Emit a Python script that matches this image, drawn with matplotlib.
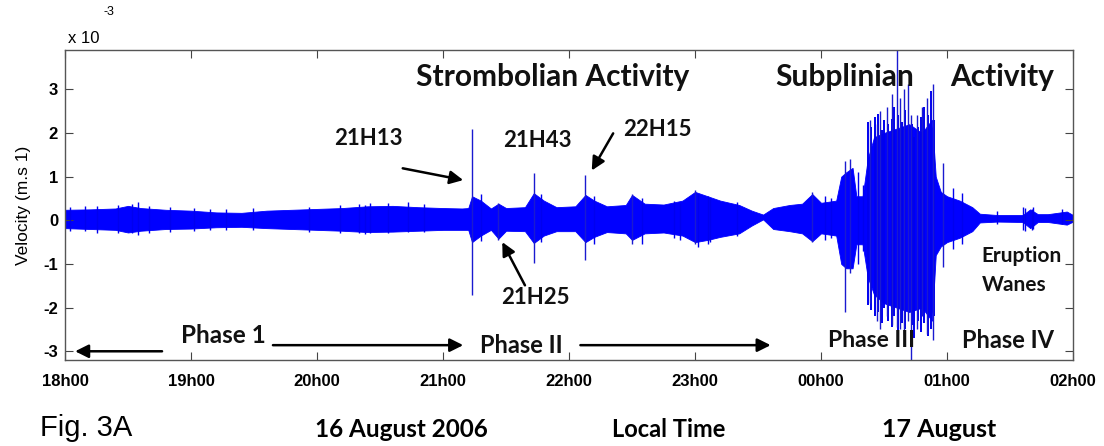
import matplotlib
matplotlib.use("Agg")
import matplotlib.pyplot as plt

# hours after 18h00 on 16 August; velocity in units of 1e-3 m/s
env_time = [0.0, 0.2, 0.4, 0.5, 0.6, 0.8, 1.0, 1.2, 1.4, 1.6, 1.8, 2.0, 2.2, 2.4,
            2.6, 2.8, 3.0, 3.15, 3.2, 3.23, 3.3, 3.38, 3.44, 3.5, 3.65, 3.72, 3.8,
            3.9, 4.05, 4.13, 4.2, 4.3, 4.45, 4.5, 4.6, 4.75, 4.9, 5.0, 5.1, 5.2,
            5.35, 5.45, 5.54, 5.62, 5.75, 5.85, 5.93, 6.0, 6.12, 6.16, 6.2, 6.25,
            6.28, 6.33, 6.37, 6.42, 6.5, 6.6, 6.7, 6.8, 6.88, 6.91, 6.95, 7.0,
            7.1, 7.2, 7.26, 7.4, 7.6, 7.66, 7.72, 7.8, 7.95, 8.0]
env_upper = [0.24, 0.25, 0.27, 0.33, 0.28, 0.24, 0.22, 0.18, 0.17, 0.22, 0.24, 0.26,
             0.28, 0.32, 0.33, 0.30, 0.28, 0.27, 0.28, 0.55, 0.45, 0.27, 0.38, 0.28,
             0.30, 0.62, 0.45, 0.30, 0.32, 0.58, 0.45, 0.32, 0.35, 0.58, 0.38, 0.36,
             0.45, 0.65, 0.55, 0.45, 0.35, 0.22, 0.13, 0.28, 0.35, 0.38, 0.60, 0.40,
             0.45, 1.00, 1.10, 1.20, 0.55, 0.55, 1.40, 1.90, 2.00, 2.10, 2.20, 2.00,
             2.30, 1.00, 0.65, 0.55, 0.45, 0.30, 0.15, 0.12, 0.12, 0.25, 0.14, 0.14,
             0.20, 0.12]
env_lower = [-0.18, -0.20, -0.22, -0.28, -0.24, -0.20, -0.19, -0.16, -0.15, -0.18,
             -0.20, -0.22, -0.24, -0.27, -0.26, -0.24, -0.22, -0.22, -0.22, -0.50,
             -0.35, -0.22, -0.42, -0.24, -0.25, -0.52, -0.35, -0.25, -0.25, -0.50,
             -0.38, -0.27, -0.30, -0.45, -0.30, -0.28, -0.35, -0.50, -0.45, -0.38,
             -0.30, -0.12, 0.02, -0.20, -0.25, -0.30, -0.48, -0.30, -0.35, -1.00,
             -1.10, -1.10, -0.55, -0.55, -1.30, -1.70, -1.90, -2.00, -2.10, -2.00,
             -2.30, -0.80, -0.60, -0.50, -0.40, -0.25, -0.05, -0.03, -0.04, -0.18,
             -0.04, -0.04, -0.10, -0.03]

# isolated spikes: time, top, bottom
spike_time = [3.23, 3.44, 3.72, 4.13, 4.50, 5.00, 5.93, 6.19, 6.23, 6.39, 6.44,
              6.47, 6.52, 6.56, 6.60, 6.63, 6.66, 6.69, 6.71, 6.76, 6.80, 6.84,
              6.89, 6.97]
spike_top = [2.10, 0.40, 1.08, 1.03, 0.60, 0.70, 0.65, 1.35, 1.40, 2.30, 2.20,
             2.50, 2.60, 2.90, 3.95, 2.80, 3.00, 3.13, 2.40, 2.40, 2.60, 2.80,
             3.13, 1.30]
spike_bottom = [-1.72, -0.45, -0.98, -0.92, -0.55, -0.55, -0.50, -2.10, -1.20,
                -1.90, -2.30, -2.50, -2.20, -2.40, -2.45, -2.50, -2.60, -2.30,
                -3.30, -2.50, -2.20, -2.60, -2.75, -1.07]

# short ragged hairs on the edge of the background band
hair_time = [0.04, 0.16, 0.25, 0.42, 0.53, 0.58, 0.67, 0.83, 1.02, 1.15, 1.28,
             1.49, 1.94, 2.18, 2.33, 2.38, 2.42, 2.56, 2.72, 2.85, 3.30, 3.78,
             4.20, 4.58, 4.83, 4.88, 5.02, 5.10, 5.12, 5.33, 6.03, 6.08, 6.29,
             6.33, 7.05, 7.12, 7.40, 7.60, 7.62, 7.67, 7.68, 7.91]
hair_top = [0.30, 0.32, 0.33, 0.36, 0.38, 0.42, 0.33, 0.30, 0.28, 0.25, 0.26,
            0.27, 0.30, 0.34, 0.38, 0.36, 0.39, 0.40, 0.41, 0.37, 0.60, 0.60,
            0.55, 0.50, 0.45, 0.40, 0.60, 0.55, 0.52, 0.42, 0.55, 0.50, 1.10,
            0.80, 0.75, 0.62, 0.22, 0.30, 0.28, 0.26, 0.30, 0.25]
hair_bottom = [-0.25, -0.24, -0.30, -0.30, -0.30, -0.34, -0.30, -0.26, -0.24,
               -0.22, -0.23, -0.22, -0.28, -0.30, -0.30, -0.32, -0.30, -0.30,
               -0.28, -0.28, -0.48, -0.50, -0.55, -0.55, -0.40, -0.45, -0.62,
               -0.55, -0.50, -0.35, -0.45, -0.40, -1.00, -0.70, -0.65, -0.55,
               -0.08, -0.22, -0.25, -0.22, -0.20, -0.08]

# dense lines inside the subplinian burst
burst_time = [6.375, 6.40, 6.43, 6.45, 6.48, 6.50, 6.53, 6.56, 6.58, 6.61, 6.64,
              6.67, 6.72, 6.74, 6.77, 6.79, 6.82, 6.85, 6.87, 6.90]
burst_top = [2.25, 2.14, 2.36, 2.44, 2.06, 2.29, 2.21, 2.33, 2.59, 2.40, 2.25,
             2.52, 2.21, 1.91, 2.14, 2.36, 2.59, 2.40, 2.97, 2.30]
burst_bottom = [-1.95, -2.05, -2.20, -2.10, -2.35, -2.00, -2.30, -2.45, -2.20,
                -2.60, -2.35, -2.50, -2.40, -2.70, -2.30, -2.55, -2.35, -2.65,
                -2.50, -2.20]

hour_labels = ["18h00", "19h00", "20h00", "21h00", "22h00", "23h00",
               "00h00", "01h00", "02h00"]
vel_ticks = [-3, -2, -1, 0, 1, 2, 3]

calibri_like = "Lato"
arial_like = "Liberation Sans"

fig = plt.figure(figsize=(11.04, 4.46), dpi=100)
ax = fig.add_axes([0.0589, 0.1928, 0.9131, 0.6952])

ax.fill_between(env_time, env_lower, env_upper, color="#0000ff", lw=0.6)
ax.vlines(hair_time, hair_bottom, hair_top, color="#0000ee", lw=1.0)
ax.vlines(burst_time, burst_bottom, burst_top, color="#0000ee", lw=1.4)
ax.vlines(spike_time, spike_bottom, spike_top, color="#1a1ad0", lw=1.0)

ax.set_xlim(0, 8)
ax.set_ylim(-3.2, 3.9)
ax.set_xticks(range(len(hour_labels)))
ax.set_xticklabels(hour_labels, fontfamily=arial_like, fontweight="bold", fontsize=12)
ax.set_yticks(vel_ticks)
ax.set_yticklabels([str(v) for v in vel_ticks], fontfamily=arial_like,
                   fontweight="bold", fontsize=12)
ax.tick_params(direction="in", top=True, right=True, length=6, width=0.8,
               color="#444444")
ax.tick_params(axis="x", pad=10)
ax.tick_params(axis="y", pad=5)
for s in ax.spines.values():
    s.set_color("#555555")
    s.set_linewidth(1.0)

ax.set_ylabel("Velocity (m.s 1)", fontfamily=arial_like, fontsize=12.5, labelpad=9)
fig.text(0.062, 0.913, "x 10", fontfamily=arial_like, fontsize=12, va="center")
fig.text(0.094, 0.972, "-3", fontfamily=arial_like, fontsize=9, va="center")

def note(t, v, s, size, **kw):
    ax.text(t, v, s, fontfamily=calibri_like, fontweight="bold", fontsize=size,
            ha="center", va="center", color="#111111", clip_on=False, **kw)

note(3.87, 3.27, "Strombolian Activity", 21.5)
note(6.19, 3.27, "Subplinian", 21.5)
note(7.44, 3.27, "Activity", 21.5)
note(2.41, 1.88, "21H13", 16)
note(3.75, 1.83, "21H43", 16)
note(4.70, 2.08, "22H15", 16)
note(3.73, -1.76, "21H25", 16)
note(7.59, -0.82, "Eruption", 15)
note(7.53, -1.49, "Wanes", 15)
note(1.26, -2.65, "Phase 1", 17.5)
note(3.62, -2.86, "Phase II", 17)
note(6.40, -2.75, "Phase III", 16.5)
note(7.48, -2.75, "Phase IV", 17)

arrow = dict(arrowstyle="-|>", color="black", lw=1.8, mutation_scale=20,
             shrinkA=0, shrinkB=0)
ax.annotate("", xy=(3.16, 0.92), xytext=(2.68, 1.19), arrowprops=arrow)
ax.annotate("", xy=(3.47, -0.50), xytext=(3.65, -1.49), arrowprops=arrow)
ax.annotate("", xy=(4.18, 1.14), xytext=(4.35, 1.99), arrowprops=arrow)
ax.annotate("", xy=(0.08, -3.0), xytext=(0.77, -3.0), arrowprops=arrow)
ax.annotate("", xy=(3.16, -2.86), xytext=(1.65, -2.86), arrowprops=arrow)
ax.annotate("", xy=(5.60, -2.86), xytext=(4.09, -2.86), arrowprops=arrow)

fig.text(0.036, 0.04, "Fig. 3A", fontfamily=arial_like, fontsize=21, va="center")
fig.text(0.364, 0.036, "16 August 2006", fontfamily=calibri_like, fontweight="bold",
         fontsize=17.5, ha="center", va="center")
fig.text(0.606, 0.036, "Local Time", fontfamily=calibri_like, fontweight="bold",
         fontsize=17, ha="center", va="center")
fig.text(0.851, 0.036, "17 August", fontfamily=calibri_like, fontweight="bold",
         fontsize=18, ha="center", va="center")

fig.savefig("out.png", dpi=100)
